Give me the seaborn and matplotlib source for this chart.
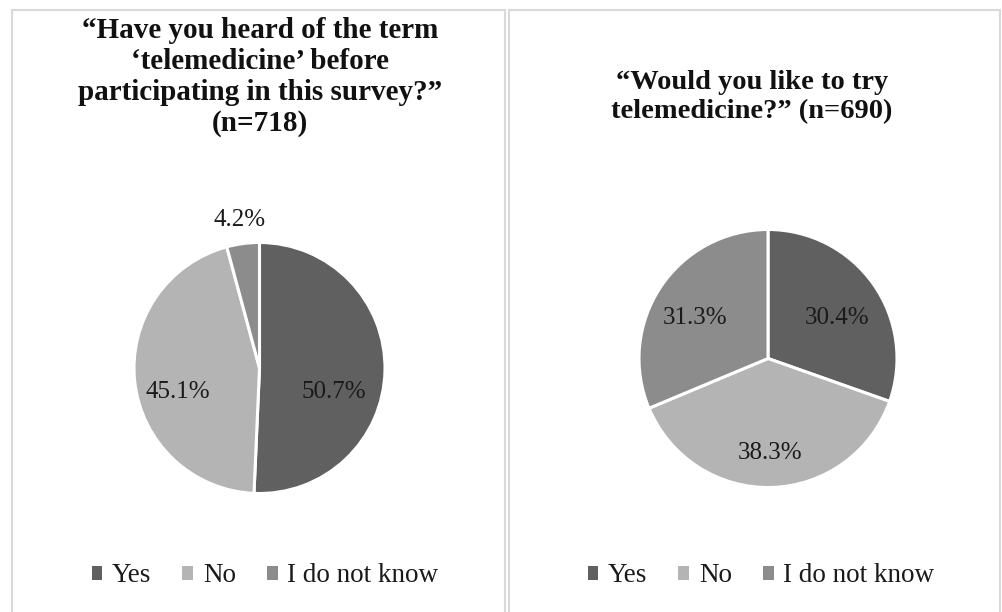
import matplotlib
matplotlib.use("Agg")
import matplotlib.pyplot as plt
import seaborn as sns
import numpy as np
from matplotlib.patches import Rectangle, Patch

# ---- data ----
categories = ["Yes", "No", "I do not know"]
heard_values = [50.7, 45.1, 4.2]
try_values = [30.4, 38.3, 31.3]
title_heard = "\u201cHave you heard of the term\n\u2018telemedicine\u2019 before\nparticipating in this survey?\u201d\n(n=718)"
title_try = "\u201cWould you like to try\ntelemedicine?\u201d (n=690)"

# ---- style ----
sns.set_theme(style="white")
plt.rcParams['font.family'] = ['Liberation Serif', 'DejaVu Serif']
colors = ["#606060", "#b4b4b4", "#8c8c8c"]
border_color = "#d9d9d9"

W, H = 1002, 612
fig = plt.figure(figsize=(W / 100, H / 100), dpi=100)
fig.patch.set_facecolor("white")


def fx(x):
    return x / W


def fy(y):
    return 1 - y / H


# panel borders (extend below the figure bottom)
for x0, x1 in [(12, 505), (509, 1000)]:
    fig.patches.append(Rectangle((fx(x0), fy(660)), fx(x1) - fx(x0), fy(10) - fy(660),
                                 transform=fig.transFigure, fill=False,
                                 edgecolor=border_color, lw=1.5))


def draw_pie(values, cx, cy, r, label_pos):
    ax = fig.add_axes([fx(cx - r), fy(cy + r), 2 * r / W, 2 * r / H])
    ax.pie(values, colors=colors, startangle=90, counterclock=False,
           wedgeprops=dict(edgecolor="white", linewidth=2.2))
    ax.set_xlim(-1, 1)
    ax.set_ylim(-1, 1)
    ax.axis("off")
    for v, (rf, ang) in zip(values, label_pos):
        a = np.deg2rad(ang)
        ax.text(rf * np.cos(a), rf * np.sin(a), f"{v}%", ha="center", va="center",
                fontsize=18, color="#1a1a1a")
    return ax


draw_pie(heard_values, 259.5, 368, 125.5, [(0.62, -18), (0.68, -163.6), (1.19, 97.5)])
draw_pie(try_values, 768, 358.5, 129, [(0.62, 30.4), (0.73, -88.8), (0.65, 151)])

fig.text(fx(260), fy(77), title_heard, ha="center", va="center", fontsize=21,
         fontweight="bold", linespacing=1.18, color="#111111")
fig.text(fx(752), fy(97), title_try, ha="center", va="center", fontsize=20.5,
         fontweight="bold", linespacing=1.2, color="#111111")

handles = [Patch(facecolor=c, edgecolor="none") for c in colors]
for cx in [265, 761]:
    fig.legend(handles, categories, loc="center", bbox_to_anchor=(fx(cx), fy(576)),
               ncol=3, frameon=False, fontsize=19.5, handlelength=0.4, handleheight=0.42,
               handletextpad=0.35, columnspacing=1.15, labelcolor="#1a1a1a")

fig.savefig("out.png", dpi=100, facecolor="white")
